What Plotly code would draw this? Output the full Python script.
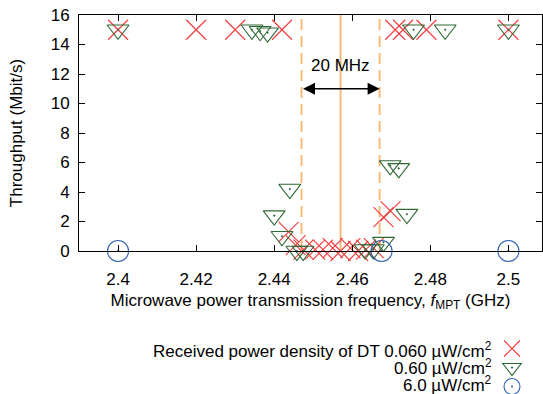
import plotly.graph_objects as go

# ---------------- data ----------------
freq_red = [2.400, 2.420, 2.430, 2.442, 2.471, 2.473, 2.479, 2.500,
            2.4437, 2.4455, 2.4475, 2.4505, 2.4525, 2.455, 2.457, 2.4595,
            2.4615, 2.4635, 2.4655, 2.468, 2.4698]
thr_red = [15.0, 15.0, 15.0, 15.0, 15.0, 15.0, 15.0, 15.0,
           1.3, 0.4, 0.1, 0.1, 0.1, 0.2, 0.0, 0.2,
           0.0, 0.1, 0.2, 2.3, 2.7]

freq_green = [2.400, 2.4343, 2.4364, 2.4383, 2.4757, 2.4838, 2.500,
              2.440, 2.442, 2.444, 2.4458, 2.4474, 2.4633, 2.4654, 2.468,
              2.4697, 2.4719, 2.474]
thr_green = [15.0, 15.0, 14.9, 14.8, 15.0, 15.0, 15.0,
             2.4, 1.0, 4.2, 0.0, 0.0, 0.1, 0.1, 0.6,
             5.8, 5.6, 2.5]

freq_blue = [2.400, 2.4675, 2.500]
thr_blue = [0.0, 0.0, 0.0]

series_labels = ["Received power density of DT 0.060 \u00b5W/cm<sup>2</sup>",
                 "0.60 \u00b5W/cm<sup>2</sup>",
                 "6.0 \u00b5W/cm<sup>2</sup>"]

x_ticks = [2.40, 2.42, 2.44, 2.46, 2.48, 2.50]
x_tick_text = ["2.4", "2.42", "2.44", "2.46", "2.48", "2.5"]
y_ticks = [0, 2, 4, 6, 8, 10, 12, 14, 16]

band_center = 2.457
band_edges = [2.447, 2.467]
band_label = "20 MHz"

# ---------------- style ----------------
W, H = 543, 394
ML, MR, MT, MB = 79, 1, 15, 143
FONT = "Liberation Sans"
FS = 17
RED, GREEN, BLUE = "#f23a3a", "#2e6a36", "#2f5fb0"
ORANGE = "#f8b36c"

def px(xp):
    return (xp - ML) / (W - ML - MR)

def py(yp):
    return (H - MB - yp) / (H - MB - MT)

fig = go.Figure()
specs = [
    (freq_red, thr_red, "x-thin-open", RED, 20),
    (freq_green, thr_green, "triangle-down-open-dot", GREEN, 19),
    (freq_blue, thr_blue, "circle-open-dot", BLUE, 21),
]
for xs, ys, sym, col, sz in specs:
    fig.add_trace(go.Scatter(
        x=xs, y=ys, mode="markers", name="",
        marker=dict(symbol=sym, size=sz, color=col,
                    line=dict(color=col, width=1.1)),
        cliponaxis=False, showlegend=True))

# band lines
fig.add_shape(type="line", xref="x", yref="y", x0=band_center, x1=band_center,
              y0=0, y1=16, line=dict(color=ORANGE, width=1.8), layer="below")
for e in band_edges:
    fig.add_shape(type="line", xref="x", yref="y", x0=e, x1=e, y0=0, y1=16,
                  line=dict(color=ORANGE, width=1.8, dash="11px,6px"), layer="below")

# arrow + label
fig.add_annotation(x=band_edges[1], y=11, ax=band_edges[0], ay=11,
                   xref="x", yref="y", axref="x", ayref="y", text="",
                   showarrow=True, arrowhead=2, arrowside="end+start",
                   arrowsize=1.5, arrowwidth=1.6, arrowcolor="black")
fig.add_annotation(x=band_center, y=12.6, xref="x", yref="y", text=band_label,
                   showarrow=False, font=dict(family=FONT, size=FS, color="black"))

# legend labels (text left of symbols)
for i, lab in enumerate(series_labels):
    fig.add_annotation(x=px(494), y=py(350 + 17 * i), xref="paper", yref="paper",
                       xanchor="right", yanchor="middle", text=lab, showarrow=False,
                       font=dict(family=FONT, size=FS, color="black"))

axis_common = dict(showgrid=False, zeroline=False, showline=True, linecolor="black",
                   linewidth=1, mirror="allticks", ticks="inside", ticklen=6,
                   tickcolor="black", automargin=False,
                   tickfont=dict(family=FONT, size=FS, color="black"))

fig.update_layout(
    width=W, height=H,
    margin=dict(l=ML, r=MR, t=MT, b=MB, autoexpand=False),
    paper_bgcolor="white", plot_bgcolor="white",
    font=dict(family=FONT, size=FS, color="black"),
    xaxis=dict(range=[2.39, 2.5086], tickvals=x_ticks, ticktext=x_tick_text,
               ticklabelstandoff=13,
               title=dict(text="Microwave power transmission frequency, <i>f</i><sub>MPT</sub> (GHz)",
                          standoff=5, font=dict(family=FONT, size=FS)),
               **axis_common),
    yaxis=dict(range=[0, 16], tickvals=y_ticks, ticklabelstandoff=5,
               title=dict(text="Throughput (Mbit/s)", standoff=23,
                          font=dict(family=FONT, size=FS)),
               **axis_common),
    legend=dict(x=px(492), y=py(334), xanchor="left", yanchor="top",
                bgcolor="rgba(0,0,0,0)", font=dict(family=FONT, size=7),
                tracegroupgap=0, itemwidth=30),
    showlegend=True,
)

fig.write_html("out.html", config={"displayModeBar": False},
               post_script="document.body.style.margin='0';")
